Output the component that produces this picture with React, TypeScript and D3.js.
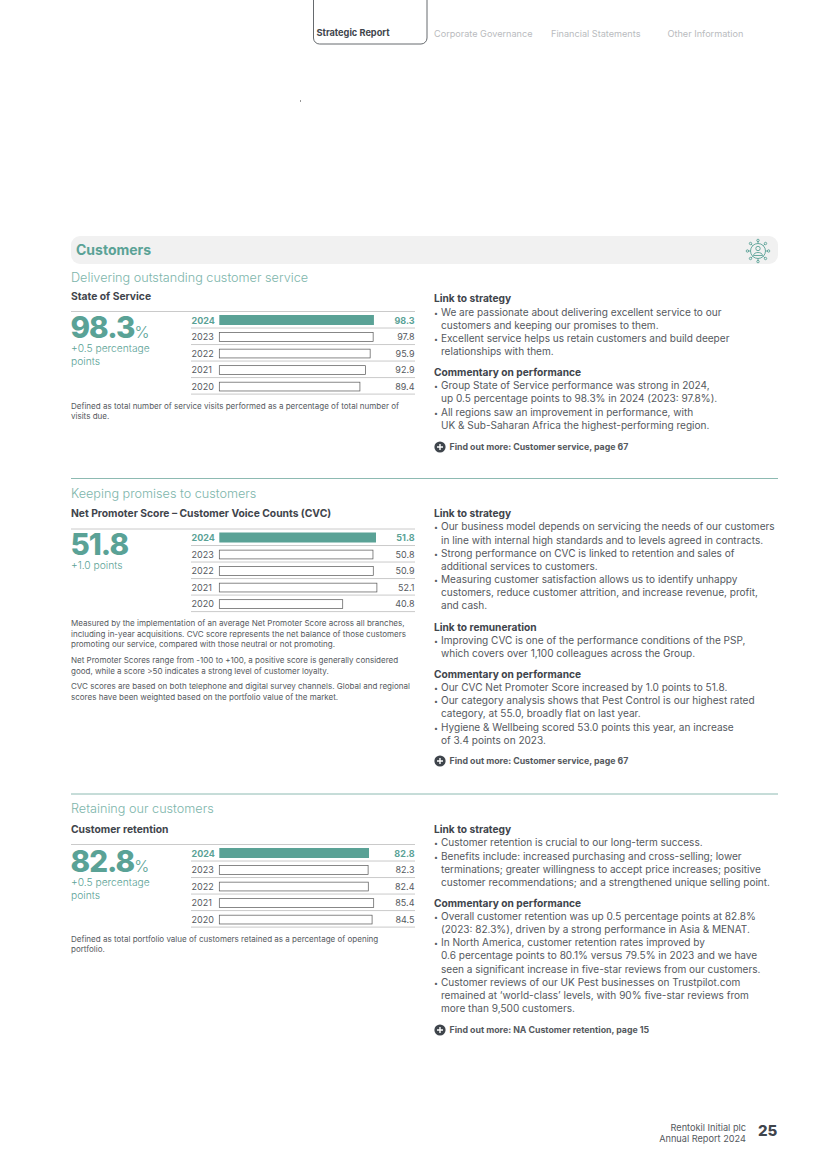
import React from "react";
import * as d3 from "d3";

const FONT = "Inter, sans-serif";
const TEAL = "#5aa296";
const TEAL_LIGHT = "#7db5ab";
const DARK = "#3f454c";
const BODY = "#55595e";

const years = ["2024", "2023", "2022", "2021", "2020"];
const serviceValues = [98.3, 97.8, 95.9, 92.9, 89.4];
const cvcValues = [51.8, 50.8, 50.9, 52.1, 40.8];
const retentionValues = [82.8, 82.3, 82.4, 85.4, 84.5];

const navTabs: [string, number][] = [["Corporate Governance", 434], ["Financial Statements", 551], ["Other Information", 667.5]];

type L = [string, number, boolean?];

const notes1: [string, number][] = [
  ["Defined as total number of service visits performed as a percentage of total number of", 408.5],
  ["visits due.", 419],
];
const notes2: [string, number][] = [
  ["Measured by the implementation of an average Net Promoter Score across all branches,", 626],
  ["including in-year acquisitions. CVC score represents the net balance of those customers", 637],
  ["promoting our service, compared with those neutral or not promoting.", 647],
  ["Net Promoter Scores range from -100 to +100, a positive score is generally considered", 663],
  ["good, while a score >50 indicates a strong level of customer loyalty.", 674],
  ["CVC scores are based on both telephone and digital survey channels. Global and regional", 689],
  ["scores have been weighted based on the portfolio value of the market.", 700],
];
const notes3: [string, number][] = [
  ["Defined as total portfolio value of customers retained as a percentage of opening", 942],
  ["portfolio.", 952],
];

const right1: L[] = [
  ["Link to strategy", 302, true],
  ["• We are passionate about delivering excellent service to our", 316],
  ["  customers and keeping our promises to them.", 329],
  ["• Excellent service helps us retain customers and build deeper", 342],
  ["  relationships with them.", 355],
  ["Commentary on performance", 376, true],
  ["• Group State of Service performance was strong in 2024,", 389],
  ["  up 0.5 percentage points to 98.3% in 2024 (2023: 97.8%).", 402],
  ["• All regions saw an improvement in performance, with", 416],
  ["  UK & Sub-Saharan Africa the highest-performing region.", 429],
];
const right2: L[] = [
  ["Link to strategy", 517, true],
  ["• Our business model depends on servicing the needs of our customers", 530],
  ["  in line with internal high standards and to levels agreed in contracts.", 544],
  ["• Strong performance on CVC is linked to retention and sales of", 557],
  ["  additional services to customers.", 570],
  ["• Measuring customer satisfaction allows us to identify unhappy", 583],
  ["  customers, reduce customer attrition, and increase revenue, profit,", 596],
  ["  and cash.", 609],
  ["Link to remuneration", 631, true],
  ["• Improving CVC is one of the performance conditions of the PSP,", 644],
  ["  which covers over 1,100 colleagues across the Group.", 657],
  ["Commentary on performance", 678, true],
  ["• Our CVC Net Promoter Score increased by 1.0 points to 51.8.", 691],
  ["• Our category analysis shows that Pest Control is our highest rated", 704],
  ["  category, at 55.0, broadly flat on last year.", 717],
  ["• Hygiene & Wellbeing scored 53.0 points this year, an increase", 731],
  ["  of 3.4 points on 2023.", 744],
];
const right3: L[] = [
  ["Link to strategy", 833, true],
  ["• Customer retention is crucial to our long-term success.", 846],
  ["• Benefits include: increased purchasing and cross-selling; lower", 860],
  ["  terminations; greater willingness to accept price increases; positive", 873],
  ["  customer recommendations; and a strengthened unique selling point.", 886],
  ["Commentary on performance", 907, true],
  ["• Overall customer retention was up 0.5 percentage points at 82.8%", 920],
  ["  (2023: 82.3%), driven by a strong performance in Asia & MENAT.", 933],
  ["• In North America, customer retention rates improved by", 946],
  ["  0.6 percentage points to 80.1% versus 79.5% in 2023 and we have", 959],
  ["  seen a significant increase in five-star reviews from our customers.", 973],
  ["• Customer reviews of our UK Pest businesses on Trustpilot.com", 986],
  ["  remained at ‘world-class’ levels, with 90% five-star reviews from", 999],
  ["  more than 9,500 customers.", 1012],
];

const sections = [
  { sub: "Delivering outstanding customer service", subY: 282, title: "State of Service", titleY: 300, top: 311.5, big: "98.3", pct: true, bigY: 338, delta: ["+0.5 percentage", "points"], values: serviceValues, domainMax: 100, notes: notes1, right: right1, more: "Find out more: Customer service, page 67", moreY: 447 },
  { sub: "Keeping promises to customers", subY: 498, title: "Net Promoter Score – Customer Voice Counts (CVC)", titleY: 517, top: 529, big: "51.8", pct: false, bigY: 555, delta: ["+1.0 points"], values: cvcValues, domainMax: 52, notes: notes2, right: right2, more: "Find out more: Customer service, page 67", moreY: 761 },
  { sub: "Retaining our customers", subY: 813, title: "Customer retention", titleY: 833, top: 844.5, big: "82.8", pct: true, bigY: 872, delta: ["+0.5 percentage", "points"], values: retentionValues, domainMax: 87, notes: notes3, right: right3, more: "Find out more: NA Customer retention, page 15", moreY: 1030 },
];

const dividerYs = [478.5, 794];

function PlusIcon({ y }: { y: number }) {
  return (
    <g transform={`translate(440,${y})`}>
      <circle r={5.6} fill={DARK} />
      <path d="M-3,0H3M0,-3V3" stroke="#fff" strokeWidth={1.4} />
    </g>
  );
}

function CustomerIcon() {
  const spokes = d3.range(8).map((i) => (i * Math.PI) / 4);
  return (
    <g transform="translate(758,251)" fill="none" stroke={TEAL} strokeWidth={0.9}>
      <circle r={7.5} />
      <circle cy={-2.5} r={2.2} />
      <path d="M-4.5,4.5C-4.5,0.5 4.5,0.5 4.5,4.5Z" />
      {spokes.map((a, i) => (
        <g key={i}>
          <line x1={7.5 * Math.cos(a)} y1={7.5 * Math.sin(a)} x2={10 * Math.cos(a)} y2={10 * Math.sin(a)} />
          <circle cx={10.6 * Math.cos(a)} cy={10.6 * Math.sin(a)} r={1.2} />
        </g>
      ))}
    </g>
  );
}

function Section({ s }: { s: (typeof sections)[number] }) {
  const x = d3.scaleLinear().domain([0, s.domainMax]).range([0, 157.3]);
  const y = d3.scaleBand().domain(years).range([s.top, s.top + 82.6]);
  return (
    <g fontFamily={FONT}>
      <text x={71} y={s.subY} fontSize={12.67} fontWeight={300} fill={TEAL_LIGHT}>{s.sub}</text>
      <text x={71} y={s.titleY} fontSize={10.3} fontWeight={700} fill={DARK}>{s.title}</text>
      <line x1={71} x2={415} y1={s.top} y2={s.top} stroke="#bdbdbd" strokeWidth={0.8} />
      <text x={70.5} y={s.bigY} fontSize={29.6} fontWeight={800} letterSpacing={-1} fill={TEAL}>{s.big}
        {s.pct && <tspan fontSize={16} fontWeight={300} letterSpacing={0}>%</tspan>}
      </text>
      {s.delta.map((d, i) => (
        <text key={d} x={71} y={s.bigY + 14 + i * 13} fontSize={10.25} fontWeight={300} fill={TEAL}>{d}</text>
      ))}
      {years.map((yr, i) => {
        const top = y(yr)!;
        const h = y.bandwidth();
        const first = i === 0;
        return (
          <g key={yr}>
            <line x1={191} x2={415} y1={top + h} y2={top + h} stroke="#bdbdbd" strokeWidth={0.8} />
            <rect x={219.3} y={top + (first ? 3.5 : 4.6)} width={x(s.values[i])} height={first ? 10 : 8.8}
              fill={first ? TEAL : "#fff"} stroke={first ? "none" : "#555"} strokeWidth={0.7} />
            <text x={191.5} y={top + 12} fontSize={9} fontWeight={first ? 700 : 400} fill={first ? TEAL : BODY}>{yr}</text>
            <text x={414.5} y={top + 12} fontSize={9} textAnchor="end" fontWeight={first ? 700 : 400} fill={first ? TEAL : BODY}>{s.values[i].toFixed(1)}</text>
          </g>
        );
      })}
      {s.notes.map(([t, ny]) => (
        <text key={t} x={71} y={ny} fontSize={8.02} fill={BODY}>{t}</text>
      ))}
      {s.right.map(([t, ry, bold]) => {
        if (bold) return <text key={t} x={434} y={ry} fontSize={10.2} fontWeight={700} fill={DARK}>{t}</text>;
        const bullet = t.startsWith("•");
        return (
          <text key={t} y={ry} fontSize={10.05} fill={BODY}>
            {bullet && <tspan x={434} fontSize={7}>•</tspan>}
            <tspan x={441}>{t.replace("•", "").trim()}</tspan>
          </text>
        );
      })}
      <PlusIcon y={s.moreY} />
      <text x={449.5} y={s.moreY + 3} fontSize={8.78} fontWeight={700} fill={BODY}>{s.more}</text>
    </g>
  );
}

export default function App() {
  return (
    <svg width={825} height={1168} style={{ position: "absolute", left: 0, top: 0, background: "#fff" }} fontFamily={FONT}>
      <path d="M313.5,0V38a6,6 0 0 0 6,6H421a6,6 0 0 0 6,-6V0" fill="none" stroke="#55595e" strokeWidth={0.9} />
      <text x={316.5} y={36} fontSize={9.2} fontWeight={700} fill={DARK}>Strategic Report</text>
      {navTabs.map(([t, nx]) => (
        <text key={t} x={nx} y={37} fontSize={9.15} fill="#b9bbbe">{t}</text>
      ))}
      <rect x={300} y={100.5} width={1} height={1} fill="#333" />
      <rect x={71} y={236} width={707} height={28} rx={9} fill="#f1f1f1" />
      <text x={76} y={255} fontSize={14} fontWeight={700} fill={TEAL}>Customers</text>
      <CustomerIcon />
      {dividerYs.map((d) => (
        <line key={d} x1={71} x2={778} y1={d} y2={d} stroke="#8dbab2" strokeWidth={1} />
      ))}
      {sections.map((s) => <Section key={s.sub} s={s} />)}
      <text x={746} y={1131} textAnchor="end" fontSize={9.2} fill={BODY}>Rentokil Initial plc</text>
      <text x={746} y={1142} textAnchor="end" fontSize={9.2} fill={BODY}>Annual Report 2024</text>
      <text x={758} y={1136} fontSize={15} fontWeight={800} fill={DARK}>25</text>
    </svg>
  );
}
